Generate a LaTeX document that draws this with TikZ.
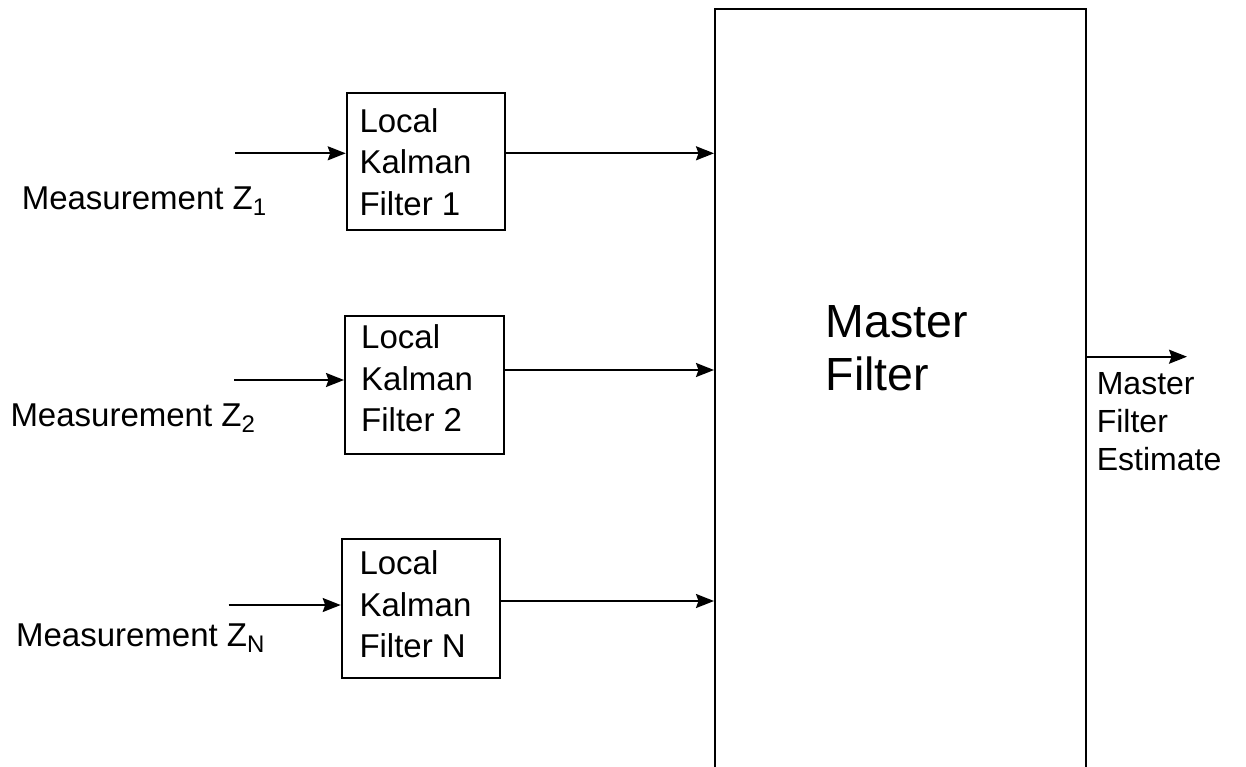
\documentclass[tikz,border=0pt]{standalone}
\usepackage{fontspec}
\setmainfont{Liberation Sans}
\usetikzlibrary{arrows.meta}
\newcommand{\lowsub}[1]{\raisebox{-6pt}{\fontsize{24}{24}\selectfont #1}}
\begin{document}
\begin{tikzpicture}[x=1pt,y=-1pt,
  blockbox/.style={draw, line width=2pt, inner sep=0pt, anchor=north west},
  conn/.style={line width=1.9pt, -{Stealth[length=18pt,width=14pt,inset=2.5pt]}},
  boxtext/.style={inner sep=0pt, align=left, anchor=north west,
                  font=\fontsize{33}{41.5}\selectfont},
  labeltext/.style={inner sep=0pt, anchor=base west, font=\fontsize{33}{40}\selectfont},
]
\useasboundingbox (0,0) rectangle (1246,766);
\clip (0,0) rectangle (1246,766);

% master filter block (runs off the bottom edge)
\node[blockbox, minimum width=371pt, minimum height=900pt] (master) at (714,8) {};
\node[inner sep=0pt, align=left, anchor=north west,
      font=\fontsize{46.5}{53.4}\selectfont] (mastertext) at (825.6,305.3) {Master\\Filter};

% local Kalman filters
\node[blockbox, minimum width=158pt, minimum height=137.3pt] (lkf1) at (345.7,91.7) {};
\node[blockbox, minimum width=158.7pt, minimum height=138.3pt] (lkf2) at (344,315) {};
\node[blockbox, minimum width=158.3pt, minimum height=138.7pt] (lkfn) at (340.7,538) {};

\node[boxtext] (t1) at (359.3,108.1) {Local\\Kalman\\Filter 1};
\node[boxtext] (t2) at (361,324.7) {Local\\Kalman\\Filter 2};
\node[boxtext] (tn) at (359.3,550.4) {Local\\Kalman\\Filter N};

% measurement labels
\node[labeltext] (m1) at (21.6,209.3) {Measurement Z\lowsub{1}};
\node[labeltext] (m2) at (10.3,426.7) {Measurement Z\lowsub{2}};
\node[labeltext] (mn) at (15.9,646) {Measurement Z\lowsub{N}};

% estimate label
\node[inner sep=0pt, align=left, anchor=north west,
      font=\fontsize{32}{38}\selectfont] (esttext) at (1096.6,372) {Master\\Filter\\Estimate};

% measurement inputs
\coordinate (in1) at (235,153.3);
\coordinate (in2) at (234,380);
\coordinate (inn) at (228.7,605);
\draw[conn] (in1) -- (in1 -| lkf1.west);
\draw[conn] (in2) -- (in2 -| lkf2.west);
\draw[conn] (inn) -- (inn -| lkfn.west);

% local estimates into the master filter
\coordinate (y1) at (0,153.3);
\coordinate (y2) at (0,370);
\coordinate (yn) at (0,601);
\draw[conn] (lkf1.east |- y1) -- (master.west |- y1);
\draw[conn] (lkf2.east |- y2) -- (master.west |- y2);
\draw[conn] (lkfn.east |- yn) -- (master.west |- yn);

% master output
\coordinate (est) at (1187,356.7);
\draw[conn] (master.east |- est) -- (est);
\end{tikzpicture}
\end{document}
